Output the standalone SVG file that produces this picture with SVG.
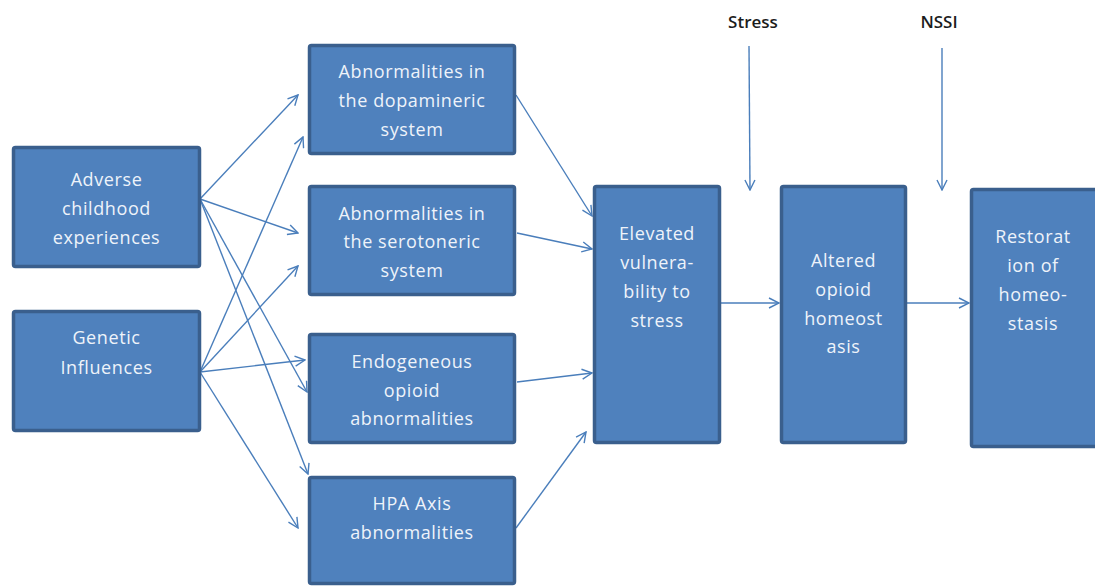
<svg xmlns="http://www.w3.org/2000/svg" width="1095" height="586" viewBox="0 0 1095 586">
  <defs>
    <style>
      .box { fill: #4f81bd; stroke: #3a5f8d; stroke-width: 3.5; }
      .lbl { font-family: "Open Sans", "Liberation Sans", sans-serif; font-size: 18px; fill: #eef3fa; text-anchor: middle; letter-spacing: 0.6px; }
      .top { font-family: "Open Sans", "Liberation Sans", sans-serif; font-size: 17px; font-weight: 600; fill: #1c1c1c; text-anchor: middle; }
      .conn { stroke: #4a7ebb; stroke-width: 1.4; fill: none; marker-end: url(#head); }
    </style>
    <marker id="head" viewBox="0 0 12 12" refX="11" refY="6" markerWidth="12" markerHeight="12" markerUnits="userSpaceOnUse" orient="auto">
      <path d="M1,1 L11,6 L1,11" fill="none" stroke="#4a7ebb" stroke-width="1.4"/>
    </marker>
  </defs>
  <rect width="1095" height="586" fill="#ffffff"/>

  <g id="connectors">
    <!-- Adverse childhood experiences -->
    <line class="conn" x1="200" y1="199" x2="298" y2="95"/>
    <line class="conn" x1="200" y1="199" x2="298" y2="233"/>
    <line class="conn" x1="200" y1="199" x2="307" y2="392"/>
    <line class="conn" x1="200" y1="199" x2="308" y2="474"/>
    <!-- Genetic influences -->
    <line class="conn" x1="200" y1="372" x2="303" y2="137"/>
    <line class="conn" x1="200" y1="372" x2="298" y2="266"/>
    <line class="conn" x1="200" y1="372" x2="305" y2="360"/>
    <line class="conn" x1="200" y1="372" x2="298" y2="528"/>
    <!-- into Elevated vulnerability -->
    <line class="conn" x1="516" y1="95" x2="592" y2="216"/>
    <line class="conn" x1="517" y1="233" x2="592" y2="249"/>
    <line class="conn" x1="517" y1="382" x2="592" y2="373"/>
    <line class="conn" x1="516" y1="528" x2="586" y2="432"/>
    <!-- main chain -->
    <line class="conn" x1="721" y1="303" x2="779" y2="303"/>
    <line class="conn" x1="907" y1="303" x2="969" y2="303"/>
    <!-- external inputs -->
    <line class="conn" x1="749" y1="46" x2="750" y2="190"/>
    <line class="conn" x1="942" y1="48" x2="942" y2="190"/>
  </g>

  <g id="adverse">
    <rect class="box" x="13.5" y="147.5" width="186" height="119" rx="2"/>
    <text class="lbl" x="106.5" y="186">Adverse</text>
    <text class="lbl" x="106.5" y="215">childhood</text>
    <text class="lbl" x="106.5" y="244">experiences</text>
  </g>

  <g id="genetic">
    <rect class="box" x="13.5" y="311.5" width="186" height="119" rx="2"/>
    <text class="lbl" x="106.5" y="344">Genetic</text>
    <text class="lbl" x="106.5" y="374">Influences</text>
  </g>

  <g id="dopamineric">
    <rect class="box" x="309.5" y="45.5" width="205" height="108" rx="2"/>
    <text class="lbl" x="412" y="78">Abnormalities in</text>
    <text class="lbl" x="412" y="107">the dopamineric</text>
    <text class="lbl" x="412" y="136">system</text>
  </g>

  <g id="serotoneric">
    <rect class="box" x="309.5" y="186.5" width="205" height="108" rx="2"/>
    <text class="lbl" x="412" y="220">Abnormalities in</text>
    <text class="lbl" x="412" y="248">the serotoneric</text>
    <text class="lbl" x="412" y="277">system</text>
  </g>

  <g id="endogeneous">
    <rect class="box" x="309.5" y="334.5" width="205" height="108" rx="2"/>
    <text class="lbl" x="412" y="368">Endogeneous</text>
    <text class="lbl" x="412" y="397">opioid</text>
    <text class="lbl" x="412" y="425">abnormalities</text>
  </g>

  <g id="hpa">
    <rect class="box" x="309.5" y="477.5" width="205" height="106" rx="2"/>
    <text class="lbl" x="412" y="510">HPA Axis</text>
    <text class="lbl" x="412" y="539">abnormalities</text>
  </g>

  <g id="elevated">
    <rect class="box" x="594.5" y="186.5" width="125" height="256" rx="2"/>
    <text class="lbl" x="657" y="240">Elevated</text>
    <text class="lbl" x="657" y="269">vulnera-</text>
    <text class="lbl" x="657" y="298">bility to</text>
    <text class="lbl" x="657" y="327">stress</text>
  </g>

  <g id="altered">
    <rect class="box" x="781.5" y="186.5" width="124" height="256" rx="2"/>
    <text class="lbl" x="843.5" y="267">Altered</text>
    <text class="lbl" x="843.5" y="296">opioid</text>
    <text class="lbl" x="843.5" y="325">homeost</text>
    <text class="lbl" x="843.5" y="353">asis</text>
  </g>

  <g id="restoration">
    <rect class="box" x="971.5" y="189.5" width="126" height="257" rx="2"/>
    <text class="lbl" x="1033" y="243">Restorat</text>
    <text class="lbl" x="1033" y="272">ion of</text>
    <text class="lbl" x="1033" y="301">homeo-</text>
    <text class="lbl" x="1033" y="330">stasis</text>
  </g>

  <g id="stress">
    <text class="top" x="753" y="28">Stress</text>
  </g>
  <g id="nssi">
    <text class="top" x="939" y="28">NSSI</text>
  </g>
</svg>
